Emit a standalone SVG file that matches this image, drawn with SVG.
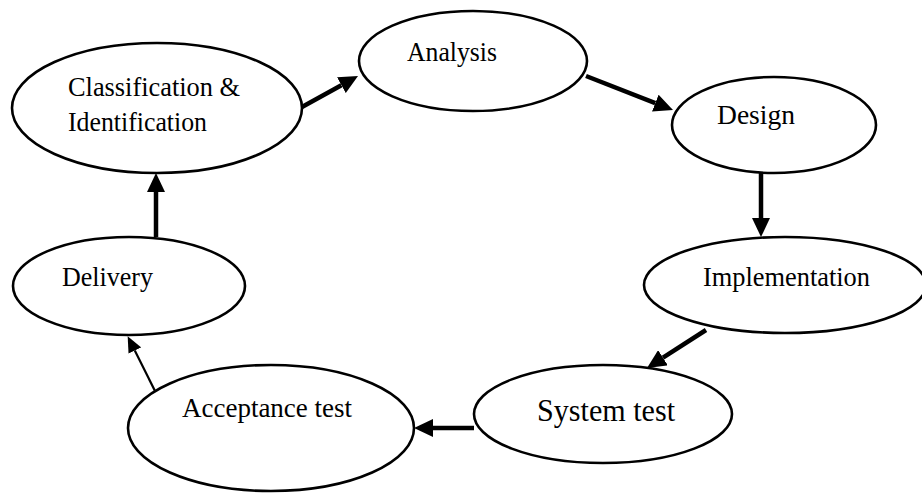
<svg xmlns="http://www.w3.org/2000/svg" width="922" height="493" viewBox="0 0 922 493">
<style>
.node ellipse{fill:#fff;stroke:#000;stroke-width:2.6}
.node text{font-family:"Liberation Serif","Times New Roman",serif;font-size:28px;fill:#000}
.node text.big{font-size:31px}
.conn{stroke:#000;fill:none;stroke-width:4.5}
.thin{stroke:#000;fill:none;stroke-width:2.2}
</style>
<defs>
<marker id="ah" markerUnits="userSpaceOnUse" markerWidth="20" markerHeight="18" refX="0" refY="9" orient="auto">
<path d="M0,0 L19,9 L0,18 z" fill="#000"/>
</marker>
<marker id="ahs" markerUnits="userSpaceOnUse" markerWidth="17" markerHeight="14" refX="0" refY="7" orient="auto">
<path d="M0,0 L16,7 L0,14 z" fill="#000"/>
</marker>
</defs>
<rect width="922" height="493" fill="#fff"/>
<g id="connectors">
<line class="conn" x1="302" y1="107" x2="341.4" y2="85.2" marker-end="url(#ah)"/>
<line class="conn" x1="586" y1="76" x2="655.3" y2="103.1" marker-end="url(#ah)"/>
<line class="conn" x1="761" y1="173" x2="761" y2="218" marker-end="url(#ah)"/>
<line class="conn" x1="706" y1="330" x2="663" y2="357.7" marker-end="url(#ah)"/>
<line class="conn" x1="474" y1="428" x2="433" y2="428" marker-end="url(#ah)"/>
<line class="thin" x1="156" y1="393" x2="134.8" y2="350.5" marker-end="url(#ahs)"/>
<line class="conn" x1="156" y1="237" x2="156" y2="192" marker-end="url(#ah)"/>
</g>
<g id="classification" class="node">
<ellipse cx="157" cy="108" rx="145" ry="65"/>
<text x="68" y="96" textLength="172" lengthAdjust="spacingAndGlyphs">Classification &amp;</text>
<text x="68" y="131" textLength="139" lengthAdjust="spacingAndGlyphs">Identification</text>
</g>
<g id="analysis" class="node">
<ellipse cx="473" cy="61" rx="114" ry="50"/>
<text x="407" y="61" textLength="90" lengthAdjust="spacingAndGlyphs">Analysis</text>
</g>
<g id="design" class="node">
<ellipse cx="774" cy="125" rx="102" ry="48"/>
<text x="717" y="124" textLength="78" lengthAdjust="spacingAndGlyphs">Design</text>
</g>
<g id="implementation" class="node">
<ellipse cx="785" cy="285" rx="141" ry="48"/>
<text x="703" y="286" textLength="167" lengthAdjust="spacingAndGlyphs">Implementation</text>
</g>
<g id="system-test" class="node">
<ellipse cx="603" cy="414" rx="129" ry="49"/>
<text class="big" x="537" y="421" textLength="138" lengthAdjust="spacingAndGlyphs">System test</text>
</g>
<g id="acceptance-test" class="node">
<ellipse cx="271" cy="428" rx="143" ry="63"/>
<text x="182" y="417" textLength="170" lengthAdjust="spacingAndGlyphs">Acceptance test</text>
</g>
<g id="delivery" class="node">
<ellipse cx="129" cy="286" rx="116" ry="49"/>
<text x="62" y="286" textLength="91" lengthAdjust="spacingAndGlyphs">Delivery</text>
</g>
</svg>
